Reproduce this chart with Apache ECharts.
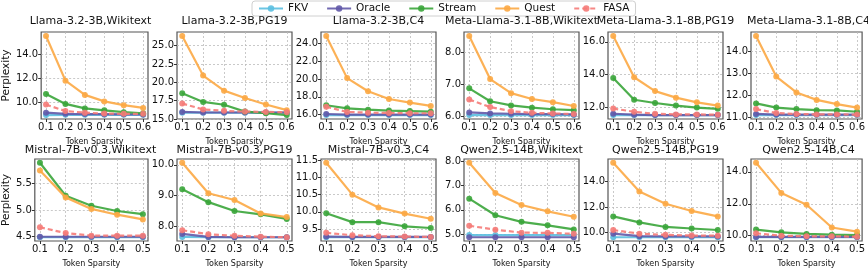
<!DOCTYPE html>
<html><head><meta charset="utf-8">
<script src="https://cdn.jsdelivr.net/npm/echarts@6/dist/echarts.min.js"></script>
<style>html,body{margin:0;padding:0;background:#fff}#c{width:868px;height:269px}</style>
</head><body><div id="c"></div><script>
// x values (token sparsity)
const XS6 = [0.1, 0.2, 0.3, 0.4, 0.5, 0.6];
const XS5 = [0.1, 0.2, 0.3, 0.4, 0.5];
const TITLES = [
  'Llama-3.2-3B,Wikitext', 'Llama-3.2-3B,PG19', 'Llama-3.2-3B,C4',
  'Meta-Llama-3.1-8B,Wikitext', 'Meta-Llama-3.1-8B,PG19', 'Meta-Llama-3.1-8B,C4',
  'Mistral-7B-v0.3,Wikitext', 'Mistral-7B-v0.3,PG19', 'Mistral-7B-v0.3,C4',
  'Qwen2.5-14B,Wikitext', 'Qwen2.5-14B,PG19', 'Qwen2.5-14B,C4'
];
const METHODS = ['FKV', 'Oracle', 'Stream', 'Quest', 'FASA'];
// perplexity per subplot (one row per subplot, in TITLES order)
const FKV = [
  [8.90, 8.92, 8.92, 8.92, 8.92, 8.92],
  [15.85, 15.85, 15.85, 15.85, 15.85, 15.85],
  [15.95, 15.95, 15.95, 15.95, 15.95, 15.95],
  [6.04, 6.04, 6.04, 6.04, 6.04, 6.04],
  [11.50, 11.50, 11.50, 11.50, 11.50, 11.50],
  [11.10, 11.10, 11.10, 11.10, 11.10, 11.10],
  [4.48, 4.48, 4.48, 4.48, 4.48],
  [7.64, 7.63, 7.63, 7.63, 7.63],
  [9.26, 9.26, 9.26, 9.26, 9.26],
  [4.97, 4.97, 4.97, 4.97, 4.97],
  [9.62, 9.62, 9.62, 9.62, 9.62],
  [9.90, 9.90, 9.90, 9.90, 9.90]
];
const ORACLE = [
  [9.10, 9.00, 8.98, 8.97, 8.96, 8.95],
  [15.95, 15.88, 15.88, 15.88, 15.88, 15.88],
  [16.07, 16.00, 16.00, 16.00, 16.00, 16.00],
  [6.12, 6.09, 6.08, 6.07, 6.07, 6.06],
  [11.58, 11.52, 11.50, 11.50, 11.50, 11.50],
  [11.15, 11.12, 11.12, 11.12, 11.12, 11.12],
  [4.49, 4.49, 4.49, 4.49, 4.49],
  [7.74, 7.64, 7.63, 7.63, 7.63],
  [9.28, 9.27, 9.27, 9.27, 9.27],
  [4.88, 4.88, 4.88, 4.88, 4.88],
  [9.90, 9.71, 9.69, 9.69, 9.69],
  [9.92, 9.92, 9.92, 9.92, 9.92]
];
const STREAM = [
  [10.68, 9.84, 9.46, 9.30, 9.14, 9.05],
  [18.50, 17.32, 16.93, 16.00, 15.79, 15.53],
  [17.05, 16.70, 16.55, 16.45, 16.40, 16.33],
  [6.87, 6.47, 6.34, 6.27, 6.22, 6.19],
  [13.78, 12.44, 12.24, 12.08, 11.96, 11.88],
  [11.63, 11.44, 11.37, 11.32, 11.31, 11.25],
  [5.90, 5.27, 5.08, 4.98, 4.92],
  [9.20, 8.78, 8.49, 8.38, 8.23],
  [9.96, 9.70, 9.70, 9.58, 9.53],
  [6.46, 5.78, 5.51, 5.37, 5.20],
  [11.26, 10.79, 10.43, 10.31, 10.19],
  [10.38, 10.21, 10.11, 10.06, 10.04]
];
const QUEST = [
  [15.57, 11.80, 10.60, 10.05, 9.73, 9.50],
  [26.32, 20.92, 18.86, 17.85, 16.97, 16.20],
  [24.84, 20.10, 18.62, 17.75, 17.35, 16.98],
  [8.50, 7.16, 6.72, 6.54, 6.44, 6.32],
  [16.36, 13.82, 12.97, 12.57, 12.28, 12.08],
  [14.70, 12.85, 12.13, 11.79, 11.60, 11.44],
  [5.75, 5.24, 5.02, 4.91, 4.82],
  [10.07, 9.07, 8.85, 8.41, 8.29],
  [11.43, 10.50, 10.13, 9.95, 9.80],
  [7.93, 6.69, 6.20, 5.94, 5.72],
  [15.48, 13.21, 12.26, 11.69, 11.26],
  [14.57, 12.68, 11.94, 10.51, 10.25]
];
const FASA = [
  [9.78, 9.24, 9.10, 9.03, 9.00, 9.00],
  [17.10, 16.30, 16.10, 16.00, 15.96, 15.92],
  [16.88, 16.30, 16.22, 16.18, 16.15, 16.15],
  [6.52, 6.29, 6.16, 6.11, 6.09, 6.07],
  [11.90, 11.70, 11.58, 11.54, 11.54, 11.52],
  [11.37, 11.19, 11.15, 11.13, 11.13, 11.12],
  [4.67, 4.56, 4.51, 4.51, 4.51],
  [7.86, 7.73, 7.68, 7.65, 7.63],
  [9.39, 9.32, 9.29, 9.28, 9.27],
  [5.35, 5.19, 5.07, 5.06, 5.02],
  [10.19, 9.90, 9.81, 9.76, 9.74],
  [10.15, 10.00, 9.96, 9.96, 9.94]
];
// y tick labels per subplot
const YTICKS = [
  [10, 12, 14], [15, 17.5, 20, 22.5, 25], [16, 18, 20, 22, 24],
  [6, 7, 8], [12, 14, 16], [11, 12, 13, 14],
  [4.5, 5.0, 5.5], [8, 9, 10], [9.5, 10, 10.5, 11, 11.5],
  [5, 6, 7, 8], [10, 12, 14], [10, 12, 14]
];

const DATA = { FKV: FKV, Oracle: ORACLE, Stream: STREAM, Quest: QUEST, FASA: FASA };
const COLORS = { FKV: '#5bbfe0', Oracle: '#6259a8', Stream: '#3aa53a', Quest: '#fca944', FASA: '#f57b78' };
const FONT = 'DejaVu Sans';

const colLeft = [33, 177, 321, 464, 608, 751];
const W = 115;
const rowTop = [32, 159];
const rowH = [87, 89];

const grids = [], xAxes = [], yAxes = [], titles = [], series = [];
for (let i = 0; i < 12; i++) {
  const r = Math.floor(i / 6), c = i % 6;
  const xs = r === 0 ? XS6 : XS5;
  const xr = xs[xs.length - 1] - xs[0];
  let lo = Infinity, hi = -Infinity;
  METHODS.forEach(m => DATA[m][i].forEach(v => { lo = Math.min(lo, v); hi = Math.max(hi, v); }));
  const yr = hi - lo;
  grids.push({ left: colLeft[c], top: rowTop[r], width: W, height: rowH[r], show: true,
    borderColor: '#555', borderWidth: 1.2, backgroundColor: 'transparent' });
  xAxes.push({ type: 'value', gridIndex: i, min: xs[0] - 0.05 * xr, max: xs[xs.length - 1] + 0.05 * xr,
    axisLine: { show: false },
    axisTick: { show: true, customValues: xs, length: 3, lineStyle: { color: '#333' } },
    axisLabel: { customValues: xs, formatter: v => v.toFixed(1), fontSize: 10, color: '#111', fontFamily: FONT, margin: 3 },
    splitLine: { show: true, lineStyle: { color: '#bbbbbb', type: [2, 2], width: 0.8 } },
    name: 'Token Sparsity', nameLocation: 'middle', nameGap: 19,
    nameTextStyle: { fontSize: 8, fontFamily: FONT, color: '#111' } });
  yAxes.push({ type: 'value', gridIndex: i, min: lo - 0.05 * yr, max: hi + 0.05 * yr,
    axisLine: { show: false },
    axisTick: { show: true, customValues: YTICKS[i], length: 3, lineStyle: { color: '#333' } },
    axisLabel: { customValues: YTICKS[i], formatter: v => v.toFixed(1), fontSize: 10, color: '#111', fontFamily: FONT, margin: 3 },
    splitLine: { show: true, lineStyle: { color: '#bbbbbb', type: [2, 2], width: 0.8 } },
    name: c === 0 ? 'Perplexity' : '', nameLocation: 'middle', nameGap: 21,
    nameTextStyle: { fontSize: 10.5, fontFamily: FONT, color: '#111' } });
  titles.push({ text: TITLES[i], left: colLeft[c] + W / 2, top: r === 0 ? 16 : 145, textAlign: 'center',
    textStyle: { fontSize: 11, fontWeight: 'normal', fontFamily: FONT, color: '#111' }, padding: 0 });
  METHODS.forEach((m, k) => {
    series.push({ name: m, type: 'line', xAxisIndex: i, yAxisIndex: i,
      data: xs.map((x, j) => [x, DATA[m][i][j]]),
      color: COLORS[m], symbol: 'circle', symbolSize: 6, z: 2 + k,
      lineStyle: { width: 2.2, type: m === 'FASA' ? [5, 3] : 'solid', opacity: 0.9 },
      itemStyle: { opacity: 0.9 } });
  });
}

const chart = echarts.init(document.getElementById('c'), null, { renderer: 'canvas' });
chart.setOption({
  animation: false,
  backgroundColor: '#fff',
  title: titles,
  legend: { data: METHODS, top: 1, left: 252, itemWidth: 24, itemHeight: 8, itemGap: 18,
    borderColor: '#d0d0d0', borderWidth: 1, borderRadius: 3, padding: [2, 6],
    textStyle: { fontSize: 10.5, fontFamily: FONT, color: '#111' } },
  grid: grids, xAxis: xAxes, yAxis: yAxes, series: series
});
</script></body></html>
